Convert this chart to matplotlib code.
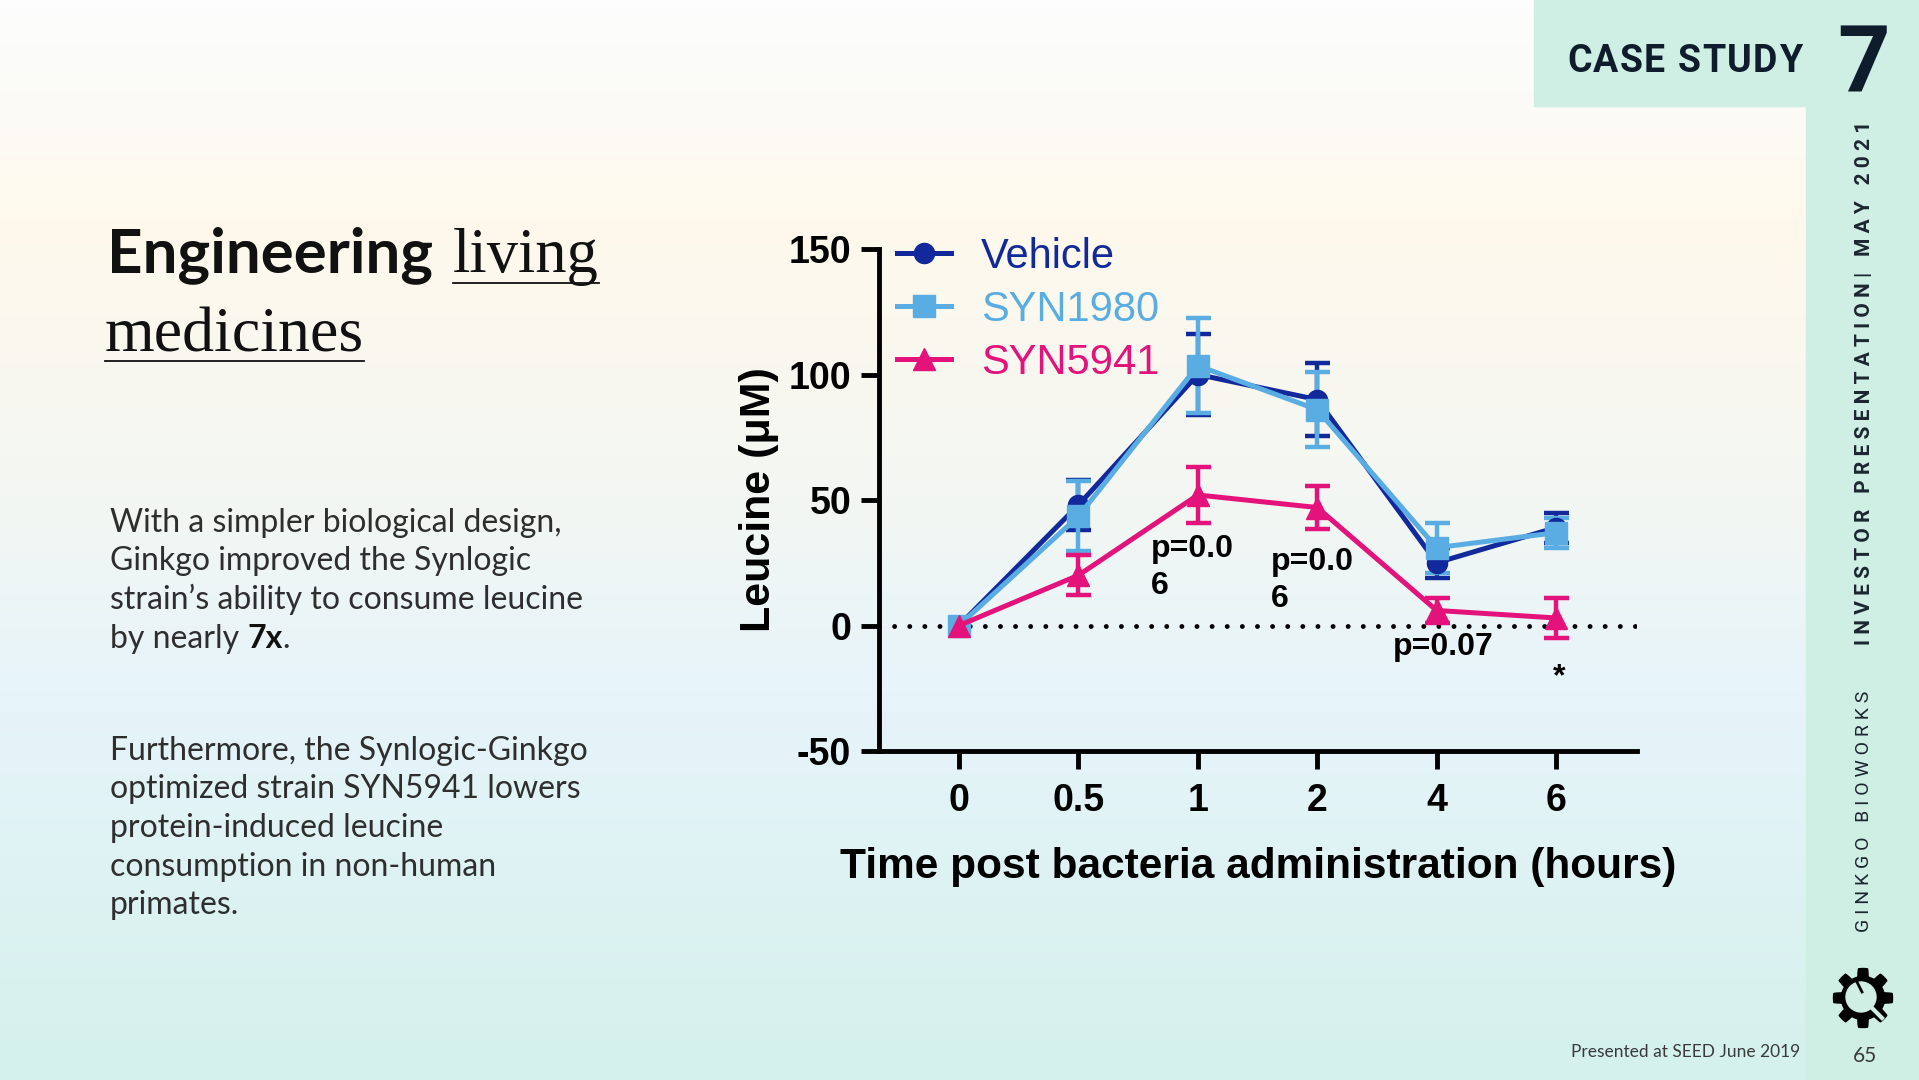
import numpy as np
import matplotlib
matplotlib.use("Agg")
import matplotlib.pyplot as plt
from matplotlib.lines import Line2D
from matplotlib.patches import Rectangle, Polygon, Circle

plt.rcParams['font.family'] = ['Liberation Sans', 'DejaVu Sans']

W, H = 1919, 1080

# --------------------------------------------------
# chart data
# --------------------------------------------------
time_labels = ["0", "0.5", "1", "2", "4", "6"]
series_names = ["Vehicle", "SYN1980", "SYN5941"]
vehicle_mean = [0, 48, 100, 90, 25, 39]
vehicle_sem = [np.nan, 10, 16, 14.5, 6, 6]
syn1980_mean = [0, 43.5, 103.5, 86, 31, 37]
syn1980_sem = [np.nan, 14, 19, 15, 10, 6]
syn5941_mean = [0, 20, 52, 47, 6, 3]
syn5941_sem = [np.nan, 8, 11, 8.5, 5, 8]
y_ticks = [-50, 0, 50, 100, 150]
p_labels = ["p=0.0\n6", "p=0.0\n6", "p=0.07", "*"]

body_para1 = ["With a simpler biological design,",
              "Ginkgo improved the Synlogic",
              "strain\u2019s ability to consume leucine"]
body_para2 = ["Furthermore, the Synlogic-Ginkgo",
              "optimized strain SYN5941 lowers",
              "protein-induced leucine",
              "consumption in non-human",
              "primates."]

colors = ['#12299c', '#5aade3', '#e3137b']
markers = ['o', 's', '^']
marker_sizes = [14.5, 15.5, 16.5]

fig = plt.figure(figsize=(W / 100, H / 100), dpi=100)
renderer = fig.canvas.get_renderer()

# --------------------------------------------------
# slide background (pixel coordinates, y down)
# --------------------------------------------------
bg = fig.add_axes([0, 0, 1, 1])
bg.set_xlim(0, W)
bg.set_ylim(H, 0)
bg.axis('off')
bg.set_zorder(0)

stops_y = [0, 90, 220, 480, 690, 1080]
stops_c = ['#fdfdfd', '#fbfbf8', '#fff9ec', '#f4f7f2', '#e7f4fa', '#d4f1ec']
rgb = np.array([matplotlib.colors.to_rgb(c) for c in stops_c])
yy = np.arange(H)
grad = np.stack([np.interp(yy, stops_y, rgb[:, k]) for k in range(3)], axis=-1)
bg.imshow(grad[:, None, :], extent=[0, W, H, 0], aspect='auto', zorder=0)

mint = '#cfeee4'
bg.add_patch(Rectangle((1806, 0), W - 1806, H, color=mint, zorder=1))
bg.add_patch(Rectangle((1534, 0), 1806 - 1534, 106, color=mint, zorder=1))

navy = '#0e1c2b'


def tracked(x, y, s, track, **kw):
    for ch in s:
        if ch == ' ':
            x += kw['fontsize'] * 100 / 72 * 0.28 + track
            continue
        t = bg.text(x, y, ch, **kw)
        x += t.get_window_extent(renderer).width + track
    return x


tracked(1567, 62, "CASE STUDY", 1.3, fontsize=27, fontweight='bold', color=navy,
        family='Roboto', va='center', zorder=3)
bg.text(1864, 67, "7", fontsize=66, fontweight='bold', color=navy, family='Roboto',
        ha='center', va='center', zorder=3)

bg.text(1864, 383, "I N V E S T O R   P R E S E N T A T I O N |   M A Y   2 0 2 1",
        rotation=90, ha='center', va='center', fontsize=15, fontweight='bold',
        color='#1b2631', family='Roboto', zorder=3)
bg.text(1864, 811, "G I N K G O   B I O W O R K S", rotation=90, ha='center',
        va='center', fontsize=14, color='#1b2631', family='Roboto', zorder=3)

# gear logo
cx, cy = 1863, 998
th = np.linspace(0, 2 * np.pi, 600)
r = 25.5 + 4 * np.clip(np.cos(8 * th) * 3, -1, 1)
bg.add_patch(Polygon(np.c_[cx + r * np.cos(th), cy + r * np.sin(th)], closed=True,
                     color='black', zorder=3))
bg.add_patch(Circle((cx - 2, cy - 1), 15, color=mint, zorder=4))
bg.plot([cx + 1, cx + 19], [cy + 2, cy + 20], color=mint, lw=3, zorder=5)
bg.plot([cx - 6, cx - 1], [cy - 16, cy - 6], color='black', lw=2, zorder=5)

bg.text(1865, 1062, "65", fontsize=15, color='#3a3a3a', family='Lato', ha='center',
        va='baseline', zorder=3)
bg.text(1800, 1057, "Presented at SEED June 2019", fontsize=12.5, color='#3a3a3a',
        family='Lato', ha='right', va='baseline', zorder=3)

# title
t = bg.text(107, 272, "Engineering", fontsize=44.5, fontweight='bold', family='Lato',
            color='#111111', va='baseline', zorder=3)
x_end = 107 + t.get_window_extent(renderer).width
t = bg.text(x_end + 20, 272, "living", fontsize=45, family='Liberation Serif',
            color='#111111', va='baseline', zorder=3)
w = t.get_window_extent(renderer).width
bg.plot([x_end + 20, x_end + 20 + w], [283, 283], color='#111111', lw=1.3, zorder=3)
t = bg.text(105, 352, "medicines", fontsize=46, family='Liberation Serif',
            color='#111111', va='baseline', zorder=3)
w = t.get_window_extent(renderer).width
bg.plot([105, 105 + w], [361, 361], color='#111111', lw=1.3, zorder=3)

# body text
body_kw = dict(fontsize=23, family='Lato', color='#2e2e2e', va='baseline', zorder=3)
for i, line in enumerate(body_para1):
    bg.text(110, 532 + 38.5 * i, line, **body_kw)
t = bg.text(110, 532 + 38.5 * 3, "by nearly", **body_kw)
x = 110 + t.get_window_extent(renderer).width + 8
t = bg.text(x, 532 + 38.5 * 3, "7x", **{**body_kw, 'fontweight': 'bold', 'color': '#111111'})
x += t.get_window_extent(renderer).width
bg.text(x, 532 + 38.5 * 3, ".", **body_kw)
for i, line in enumerate(body_para2):
    bg.text(110, 760 + 38.5 * i, line, **body_kw)

# --------------------------------------------------
# the chart
# --------------------------------------------------
ax = fig.add_axes([879 / W, 1 - 751 / H, (1637 - 879) / W, (751 - 249) / H])
ax.set_zorder(2)
ax.patch.set_alpha(0)
x = np.arange(len(time_labels))

ax.axhline(0, color='black', lw=3.5, linestyle=(0, (0.01, 3.1)),
           dash_capstyle='round', zorder=1)

for mean, sem, c, m, ms in zip([vehicle_mean, syn1980_mean, syn5941_mean],
                               [vehicle_sem, syn1980_sem, syn5941_sem],
                               colors, markers, marker_sizes):
    ax.errorbar(x, mean, yerr=sem, color=c, lw=3.6, marker=m, ms=ms,
                capsize=9, capthick=3.2, elinewidth=3.2, zorder=3)

ax.set_xlim(-0.67, 5.678)
ax.set_ylim(-50, 150)
ax.set_xticks(x)
ax.set_xticklabels(time_labels, fontweight='bold')
ax.set_yticks(y_ticks)
ax.set_yticklabels([str(v) for v in y_ticks], fontweight='bold')
ax.tick_params(axis='both', length=13, width=3.5, direction='out', labelsize=27)
ax.tick_params(axis='y', pad=7)
ax.tick_params(axis='x', pad=10)
for s in ['top', 'right']:
    ax.spines[s].set_visible(False)
for s in ['left', 'bottom']:
    ax.spines[s].set_linewidth(3.5)

ax.set_ylabel("Leucine (\u03bcM)", fontsize=31, fontweight='bold')
ax.yaxis.set_label_coords(-0.158, 0.5)
ax.yaxis.label.set_verticalalignment('center')
ax.set_xlabel("Time post bacteria administration (hours)", fontsize=30.5, fontweight='bold')
ax.xaxis.set_label_coords(0.5, -0.231)
ax.xaxis.label.set_verticalalignment('center')

# significance labels
p_x = [1.61, 2.61, 3.63, 5.03]
p_y = [23.2, 18, -8.4, -24]
p_ha = ['left', 'left', 'left', 'center']
p_va = ['center', 'center', 'center', 'baseline']
for s, px, py, ha, va in zip(p_labels, p_x, p_y, p_ha, p_va):
    ax.text(px, py, s, fontsize=23, fontweight='bold', ha=ha, va=va,
            linespacing=1.3, zorder=4)

handles = [Line2D([], [], color=c, lw=3.6, marker=m, ms=ms)
           for c, m, ms in zip(colors, markers, marker_sizes)]
leg = ax.legend(handles, series_names, loc='upper left',
                bbox_to_anchor=(897 / W, 1 - 237 / H), bbox_transform=fig.transFigure,
                frameon=False, fontsize=30, handlelength=1.3, handletextpad=0.72,
                labelspacing=0.31, borderpad=0, borderaxespad=0)
for txt, c in zip(leg.get_texts(), colors):
    txt.set_color(c)

fig.savefig("out.png", dpi=100)
